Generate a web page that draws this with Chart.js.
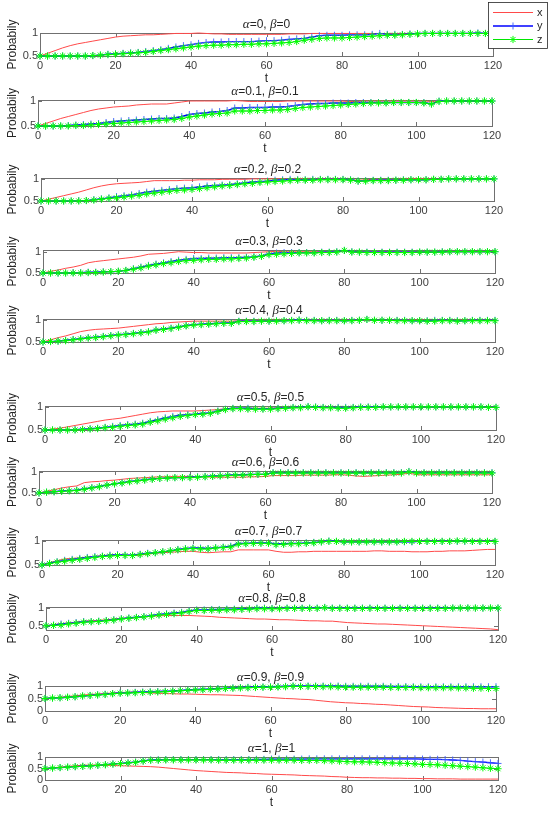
<!DOCTYPE html>
<html>
<head>
<meta charset="utf-8">
<script src="https://cdn.jsdelivr.net/npm/chart.js@4.4.1/dist/chart.umd.min.js"></script>
<style>
  body { margin: 0; background: #fff; width: 550px; height: 815px; position: relative; overflow: hidden; }
  canvas { position: absolute; left: 0; }
</style>
</head>
<body>
<script>
// time axis (markers every 2 steps)
const t = [0,2,4,6,8,10,12,14,16,18,20,22,24,26,28,30,32,34,36,38,40,42,44,46,48,50,52,54,56,58,
  60,62,64,66,68,70,72,74,76,78,80,82,84,86,88,90,92,94,96,98,100,102,104,106,108,110,112,114,116,118,120];

const xTicks = [0, 20, 40, 60, 80, 100, 120];
const yTicksHalf = [0.5, 1];
const yTicksFull = [0, 0.5, 1];
const alphas = ['0', '0.1', '0.2', '0.3', '0.4', '0.5', '0.6', '0.7', '0.8', '0.9', '1'];

// alpha = beta = 0
const x00 = [.50,.56,.62,.68,.73,.77,.80,.83,.86,.89, .92,.94,.95,.96,.97,.97,.98,.99,1,1, 1,1.01,1,.99,.99,.98,.98,.98,.98,.98,
  .98,.98,.98,.99,.99,.99,1,1,1,1, 1,1,1,1,1,.99,1,1,1,1, 1,1,1,1,1,1,1,1,1,1, 1];
const y00 = [.50,.50,.50,.50,.50,.50,.50,.51,.52,.54, .55,.56,.57,.58,.60,.62,.64,.67,.70,.73, .75,.78,.80,.81,.81,.82,.82,.82,.82,.83,
  .84,.84,.85,.87,.88,.89,.92,.95,.96,.96, .96,.97,.97,.97,.98,1,.98,.98,.98,.99, 1,1,1,1,1,1,1,1,1.01,1, 1];
const z00 = [.50,.50,.50,.50,.50,.50,.50,.51,.52,.53, .54,.55,.56,.57,.58,.60,.62,.64,.66,.68, .70,.72,.73,.74,.74,.75,.75,.76,.76,.77,
  .77,.78,.79,.80,.82,.85,.87,.89,.90,.90, .90,.91,.92,.93,.94,.95,.96,.96,.97,.98, .99,1,1,1,1,1,1,1,1,1, 1];

// alpha = beta = 0.1
const x01 = [.50,.55,.60,.65,.69,.73,.77,.81,.84,.86, .88,.89,.90,.92,.93,.94,.94,.94,.96,.98, 1,1,1,1,1,1,1.01,1,.99,.99,
  .99,.99,.99,1,1,1,1,1,1,1, 1,.99,.99,1,1,1,1,1,1,1, 1,1,.99,1,1,1,1,1,1,1, 1];
const y01 = [.50,.50,.50,.50,.51,.52,.53,.54,.55,.57, .59,.60,.61,.62,.63,.64,.65,.65,.66,.69, .73,.75,.76,.78,.79,.81,.86,.86,.87,.87,
  .87,.88,.88,.89,.91,.93,.94,.95,.95,.96, .96,.96,.97,.97,.97,.97,.97,.97,.97,.97, .97,.97,.94,1,1,1,1,1,1,1, 1];
const z01 = [.50,.50,.50,.50,.50,.51,.51,.52,.53,.54, .55,.56,.57,.58,.59,.60,.61,.62,.63,.65, .68,.70,.72,.74,.75,.76,.80,.80,.80,.81,
  .81,.82,.82,.83,.85,.87,.88,.89,.90,.91, .92,.93,.94,.95,.96,.96,.96,.97,.97,.97, .97,.96,.94,.99,1,1,1,1,1,1, 1];

// alpha = beta = 0.2
const x02 = [.50,.54,.58,.62,.66,.70,.75,.80,.84,.87, .89,.90,.91,.92,.94,.96,.96,.96,.96,.97, .97,.98,.98,.98,.99,.99,.99,.99,1,1,
  1,1,1,1,1,1,1,1,1,1, .99,.98,.97,.98,.99,.99,.99,.99,.99,1, 1,1,1,1,1,1,1,1,1,1, 1];
const y02 = [.50,.50,.50,.50,.50,.51,.51,.53,.55,.57, .60,.62,.64,.67,.70,.72,.74,.76,.78,.79, .80,.82,.84,.85,.86,.87,.89,.91,.93,.94,
  .95,.97,.98,.99,.98,.98,.99,.99,.99,.99, .99,.98,.95,.96,.97,.97,.97,.97,.98,.98, .98,.98,.99,.99,1,1,1,1,1,1, 1];
const z02 = [.50,.50,.50,.50,.50,.50,.51,.52,.54,.56, .57,.59,.61,.63,.66,.68,.70,.72,.74,.75, .76,.78,.80,.82,.84,.85,.87,.89,.90,.92,
  .93,.94,.95,.96,.97,.97,.97,.98,.98,.98, .98,.97,.95,.95,.96,.96,.96,.97,.97,.98, .98,.98,.99,.99,1,1,1,1,1,1, 1];

// alpha = beta = 0.3
const x03 = [.50,.54,.57,.61,.64,.68,.74,.77,.79,.81, .83,.85,.87,.90,.94,.95,.96,.98,1,.99, .98,.98,.97,.97,.97,.97,.97,.97,.98,.99,
  1,1.01,1,1,1,1,1,1,1,1, 1.02,1,1,1,1,1,1,1,1,1, 1,1,1,1,1,1,1,1,1,1, 1];
const y03 = [.50,.50,.50,.50,.51,.51,.52,.52,.53,.53, .54,.56,.60,.64,.68,.71,.74,.77,.80,.82, .84,.84,.85,.85,.86,.86,.86,.87,.88,.90,
  .95,.97,.98,.98,.98,.98,.98,.99,.99,1, 1.03,1,.99,.99,.99,.99,.99,.99,.99,.99, .99,.99,.99,1,1,1,1,1,1,1, 1];
const z03 = [.50,.50,.50,.50,.50,.50,.51,.51,.52,.53, .54,.56,.59,.62,.66,.69,.72,.74,.77,.79, .80,.81,.82,.82,.83,.83,.84,.85,.87,.89,
  .93,.94,.95,.96,.97,.97,.97,.98,.98,.99, 1.03,.99,.99,.98,.98,.98,.98,.98,.98,.98, .99,.99,.99,.99,1,1,1,1,1,1, 1];

// alpha = beta = 0.4
const x04 = [.50,.55,.60,.64,.69,.74,.77,.79,.80,.81, .82,.84,.86,.88,.90,.92,.93,.95,.96,.97, .98,.98,.98,.98,.98,.98,.99,1,1,1,
  1,1,1,1,1,1,1,1,1,1, 1,1,1,1,1,1,1,1,1,1, 1,1,1,1,1,1,1,1,1,1, 1];
const y04 = [.50,.51,.52,.54,.56,.58,.60,.61,.63,.65, .67,.68,.70,.72,.74,.78,.80,.82,.85,.88, .90,.91,.92,.93,.94,.94,.98,.98,.98,.98,
  .98,.99,.99,1,1.01,1,1,.99,1,1, .99,1,1,1.02,1,1,1,1,1,.99, .99,.99,1,1,1,.99,.99,1,1,1, 1];
const z04 = [.50,.51,.52,.53,.55,.57,.59,.60,.62,.64, .66,.67,.69,.71,.73,.77,.79,.81,.84,.87, .89,.90,.91,.92,.93,.93,.97,.97,.97,.98,
  .98,.98,.99,.99,1,.99,.99,.99,.99,.99, .99,.99,1,1.02,1,1,1,.99,.99,.99, .99,.98,.98,.99,.99,.98,.99,.99,.99,.99, .99];

// alpha = beta = 0.5
const x05 = [.50,.52,.54,.57,.60,.63,.66,.69,.72,.74, .76,.79,.82,.85,.88,.90,.91,.92,.92,.92, .92,.93,.94,.95,.97,.98,.98,.98,.98,.98,
  .98,.99,.99,.99,1,1,1,1,1,1, 1,1,1,1,1,1,1,1,1,1, 1,1,1,1,1,1,1,1,1,1, 1];
const y05 = [.50,.50,.50,.50,.51,.52,.53,.54,.56,.58, .60,.62,.63,.65,.69,.73,.77,.80,.83,.84, .85,.87,.88,.92,.96,.98,.98,.98,.97,.97,
  .97,.98,.99,1,1,1.02,1.01,1,1,1, 1,1,1.01,1.01,1.01,1.01,1.01,1.01,1.01,1.01, 1.01,1.01,1.01,1.01,1.01,1.01,1.01,1.01,1.01,1, 1];
const z05 = [.50,.50,.50,.50,.50,.51,.52,.53,.55,.56, .58,.60,.61,.63,.67,.70,.74,.77,.80,.82, .84,.85,.87,.91,.95,.97,.97,.96,.96,.96,
  .96,.97,.98,.99,.99,1.01,1,.99,.99,.98, .98,.99,1,1,1,1.01,1.01,1.01,1.01,1.01, 1.01,1.01,1.01,1.01,1.01,1.01,1.01,1.01,1.01,1, 1];

// alpha = beta = 0.6
const x06 = [.50,.54,.58,.62,.65,.67,.75,.77,.78,.80, .81,.83,.85,.86,.87,.88,.89,.89,.90,.90, .90,.89,.89,.88,.88,.88,.88,.88,.89,.89,
  .90,.92,.92,.92,.92,.93,.93,.93,.93,.94, .94,.93,.91,.90,.91,.92,.93,.94,.95,.98, .94,.94,.94,.94,.94,.94,.94,.94,.94,.94, .94];
const y06 = [.50,.52,.53,.55,.56,.57,.60,.63,.66,.69, .72,.75,.78,.80,.82,.84,.85,.86,.87,.87, .88,.89,.90,.91,.92,.93,.94,.94,.95,.95,
  .95,.99,.99,.99,.99,.99,.99,.99,.99,.99, .99,.99,.99,.99,.99,.99,.99,.99,.99,1.02, .99,.99,.99,.99,.99,.99,.99,.99,.99,.99, .99];
const z06 = [.50,.52,.53,.54,.55,.56,.59,.62,.65,.69, .72,.74,.77,.79,.81,.83,.85,.86,.87,.87, .87,.88,.89,.90,.91,.92,.93,.93,.94,.95,
  .95,.98,.98,.98,.98,.98,.98,.98,.98,.98, .98,.98,.98,.98,.98,.98,.98,.98,.98,1.01, .98,.98,.98,.98,.98,.98,.98,.98,.98,.98, .98];

// alpha = beta = 0.7
const x07 = [.50,.55,.59,.63,.64,.65,.67,.68,.70,.71, .72,.71,.70,.71,.73,.75,.76,.77,.78,.79, .79,.77,.76,.77,.78,.78,.82,.82,.82,.82,
  .82,.79,.77,.77,.78,.78,.79,.79,.79,.79, .79,.79,.79,.79,.80,.80,.79,.79,.79,.78, .78,.78,.79,.79,.80,.80,.80,.81,.82,.83, .83];
const y07 = [.50,.54,.57,.60,.62,.64,.66,.68,.69,.71, .72,.71,.71,.73,.75,.76,.78,.80,.83,.85, .86,.86,.85,.87,.88,.90,.96,.96,.97,.97,
  .97,.95,.95,.96,.96,.97,.98,.99,1.01,1, .99,.99,.99,.99,.99,.99,.99,.99,.99,.99, 1,1,1,1,1,1,1,1,1,1, 1];
const z07 = [.50,.53,.56,.58,.60,.62,.64,.66,.68,.69, .70,.70,.70,.72,.74,.76,.78,.80,.82,.84, .85,.84,.84,.86,.87,.88,.94,.95,.96,.96,
  .96,.93,.94,.95,.95,.96,.97,.99,1,1, .99,.99,.99,.99,.99,.99,.99,.99,1,1, 1,1,1,1,1,1.01,1.01,1,1,1, 1];

// alpha = beta = 0.8
const x08 = [.50,.53,.56,.58,.60,.63,.64,.65,.67,.69, .71,.72,.73,.75,.77,.78,.79,.79,.79,.79, .78,.77,.76,.74,.73,.72,.71,.70,.69,.69,
  .68,.67,.67,.66,.65,.64,.64,.63,.63,.61, .59,.58,.57,.56,.55,.55,.54,.53,.52,.51, .50,.49,.48,.47,.46,.45,.44,.43,.42,.41, .39];
const y08 = [.50,.52,.55,.57,.59,.62,.62,.63,.65,.67, .70,.72,.74,.76,.79,.82,.84,.86,.88,.92, .95,.95,.96,.96,.97,.97,.98,.98,1,1,
  .99,.99,1,1,1,1,1,1.02,1,1, 1,1,1,1,1,1,1,1,1,1, 1,1,1,1,1,1,1,1,1,1, 1];
const z08 = [.50,.51,.52,.55,.57,.60,.61,.62,.64,.66, .69,.71,.73,.75,.77,.80,.82,.84,.86,.90, .93,.93,.94,.94,.95,.95,.96,.97,.98,.98,
  .98,.98,.99,.99,.99,.99,.99,1.01,.99,.99, .99,.99,.99,.99,.99,.99,.99,.99,.99,.99, .99,.99,.99,.99,1,1,1,1,1,1, 1];

// alpha = beta = 0.9
const x09 = [.50,.53,.55,.58,.61,.64,.66,.68,.70,.72, .74,.75,.76,.74,.72,.71,.70,.69,.68,.68, .67,.66,.65,.65,.64,.63,.62,.60,.58,.56,
  .54,.52,.50,.49,.47,.46,.43,.40,.37,.35, .33,.32,.30,.29,.27,.26,.24,.22,.20,.18, .17,.16,.14,.13,.12,.11,.10,.10,.09,.09, .09];
const y09 = [.50,.52,.53,.55,.57,.60,.62,.65,.67,.70, .72,.73,.75,.76,.77,.78,.79,.80,.82,.84, .86,.87,.88,.90,.91,.93,.94,.95,.96,.96,
  .97,.98,.99,1,1,1,1,1,1,1, .99,.99,.99,.99,.99,.99,.98,.98,.98,.97, .97,.97,.97,.97,.97,.97,.97,.97,.97,.97, .97];
const z09 = [.50,.52,.53,.55,.57,.60,.62,.64,.66,.69, .71,.72,.73,.74,.75,.76,.77,.79,.81,.83, .84,.85,.87,.88,.90,.91,.92,.93,.94,.95,
  .95,.96,.97,.99,.98,.98,.98,.97,.97,.96, .95,.95,.95,.95,.95,.95,.94,.94,.94,.94, .93,.93,.93,.93,.93,.92,.92,.91,.91,.90, .90];

// alpha = beta = 1
const x10 = [.50,.53,.56,.59,.62,.64,.65,.65,.64,.63, .62,.61,.60,.59,.58,.56,.53,.50,.47,.44, .41,.39,.37,.35,.33,.32,.31,.29,.28,.26,
  .25,.24,.23,.22,.20,.19,.18,.17,.15,.14, .12,.11,.10,.10,.09,.09,.08,.08,.07,.07, .06,.06,.05,.05,.05,.04,.04,.04,.04,.04, .04];
const y10 = [.50,.52,.54,.56,.58,.60,.62,.64,.67,.70, .72,.75,.78,.83,.87,.88,.89,.89,.89,.89, .89,.89,.89,.89,.89,.89,.89,.89,.90,.90,
  .91,.91,.91,.91,.91,.92,.92,.92,.92,.92, .92,.92,.92,.92,.92,.92,.92,.92,.92,.92, .91,.90,.90,.89,.87,.85,.82,.80,.78,.75, .72];
const z10 = [.50,.52,.54,.56,.58,.59,.61,.64,.66,.69, .71,.74,.77,.82,.86,.86,.87,.87,.87,.87, .87,.87,.87,.86,.86,.86,.86,.86,.86,.86,
  .86,.86,.86,.86,.85,.85,.85,.84,.83,.82, .80,.79,.79,.78,.77,.75,.74,.73,.72,.70, .68,.67,.66,.64,.62,.60,.58,.56,.53,.51, .49];

const xSeries = [x00, x01, x02, x03, x04, x05, x06, x07, x08, x09, x10];
const ySeries = [y00, y01, y02, y03, y04, y05, y06, y07, y08, y09, y10];
const zSeries = [z00, z01, z02, z03, z04, z05, z06, z07, z08, z09, z10];

// axis limits per panel
const yMins = [0.5, 0.5, 0.5, 0.5, 0.5, 0.5, 0.5, 0.5, 0.38, 0, 0];
const yMaxs = [1.01, 1.02, 1.02, 1.04, 1.03, 1.03, 1.03, 1.03, 1.03, 1.0, 1.0];

// plot boxes on the page: left, right, top, bottom
const plotLeft   = [40, 38, 41, 43, 43, 45, 39, 42, 46, 45, 45];
const plotRight  = [493, 492, 494, 495, 495, 496, 492, 495, 498, 496, 498];
const plotTop    = [33, 100, 178, 250, 319, 406, 471, 540, 607, 686, 757];
const plotBottom = [56, 126, 201, 273, 342, 430, 493, 565, 630, 711, 780];

const FONT = "'Liberation Sans', Arial, Helvetica, sans-serif";
const GREEK = "italic 13px 'Liberation Serif', 'DejaVu Serif', serif";
const TEXT = '#262626';
const AXIS = '#404040';

function makeFrame(i) {
    return {
        id: 'frame',
        beforeDatasetsDraw(chart) {
            const ctx = chart.ctx;
            const a = chart.chartArea;
            const xs = chart.scales.x, ys = chart.scales.y;
            ctx.save();
            ctx.strokeStyle = '#707070';
            ctx.lineWidth = 1;
            ctx.strokeRect(Math.round(a.left) + 0.5, Math.round(a.top) + 0.5, Math.round(a.right - a.left), Math.round(a.bottom - a.top));
            // inward tick marks
            ctx.beginPath();
            xTicks.forEach(v => {
                const px = Math.round(xs.getPixelForValue(v)) + 0.5;
                ctx.moveTo(px, a.bottom); ctx.lineTo(px, a.bottom - 4);
                ctx.moveTo(px, a.top); ctx.lineTo(px, a.top + 4);
            });
            ys.ticks.forEach(tk => {
                const py = Math.round(ys.getPixelForValue(tk.value)) + 0.5;
                ctx.moveTo(a.left, py); ctx.lineTo(a.left + 4, py);
                ctx.moveTo(a.right, py); ctx.lineTo(a.right - 4, py);
            });
            ctx.stroke();
            // y axis title (drawn here so it is not squeezed to the plot height)
            ctx.translate(13, (a.top + a.bottom) / 2);
            ctx.rotate(-Math.PI / 2);
            ctx.fillStyle = TEXT;
            ctx.font = '12px ' + FONT;
            ctx.textAlign = 'center';
            ctx.textBaseline = 'middle';
            ctx.fillText('Probabily', 0, 0);
            ctx.restore();
        },
        afterDraw(chart) {
            // panel title with italic greek letters
            const ctx = chart.ctx;
            const a = chart.chartArea;
            const parts = [
                ['\u03b1', GREEK], ['=' + alphas[i] + ', ', '12px ' + FONT],
                ['\u03b2', GREEK], ['=' + alphas[i], '12px ' + FONT]
            ];
            ctx.save();
            ctx.fillStyle = TEXT;
            ctx.textBaseline = 'middle';
            let total = 0;
            parts.forEach(p => { ctx.font = p[1]; total += ctx.measureText(p[0]).width; });
            let x = (a.left + a.right) / 2 - total / 2;
            const y = a.top - 8;
            parts.forEach(p => {
                ctx.font = p[1];
                ctx.fillText(p[0], x, y);
                x += ctx.measureText(p[0]).width;
            });
            ctx.restore();
        }
    };
}

const legendPlugin = {
    id: 'legendBox',
    afterDraw(chart) {
        const ctx = chart.ctx;
        ctx.save();
        ctx.fillStyle = '#fff';
        ctx.fillRect(488.5, 2.5, 59, 46);
        ctx.strokeStyle = '#262626';
        ctx.lineWidth = 0.8;
        ctx.strokeRect(488.5, 2.5, 59, 46);
        chart.data.datasets.forEach((ds, k) => {
            const yy = 12.5 + k * 13.5;
            ctx.strokeStyle = ds.borderColor;
            ctx.lineWidth = ds.borderWidth;
            ctx.beginPath();
            ctx.moveTo(493, yy);
            ctx.lineTo(533, yy);
            ctx.stroke();
            if (ds.pointRadius > 0 && Chart.helpers && Chart.helpers.drawPoint) {
                ctx.strokeStyle = ds.pointBorderColor;
                ctx.lineWidth = ds.pointBorderWidth;
                Chart.helpers.drawPoint(ctx, {pointStyle: ds.pointStyle, radius: ds.pointRadius, borderWidth: ds.pointBorderWidth, rotation: 0}, 513, yy);
            }
            ctx.fillStyle = TEXT;
            ctx.font = '11px ' + FONT;
            ctx.textBaseline = 'middle';
            ctx.fillText(ds.label, 537, yy);
        });
        ctx.restore();
    }
};

function makePanel(i) {
    const above = i === 0 ? 33 : 22;
    const below = 32;
    const h = above + (plotBottom[i] - plotTop[i]) + below;
    const cv = document.createElement('canvas');
    cv.width = 550;
    cv.height = h;
    cv.style.top = (plotTop[i] - above) + 'px';
    document.body.appendChild(cv);

    const pts = arr => t.map((v, k) => ({x: v, y: arr[k]}));
    const yTicks = yMins[i] < 0.2 ? yTicksFull : yTicksHalf;

    new Chart(cv, {
        type: 'line',
        data: {
            datasets: [
                { label: 'x', data: pts(xSeries[i]), borderColor: '#ff4a4a', borderWidth: 1, pointRadius: 0, order: 3, clip: false },
                { label: 'y', data: pts(ySeries[i]), borderColor: '#0000ff', borderWidth: 1.3, pointStyle: 'cross',
                  pointRadius: 3.5, pointBorderWidth: 0.9, pointBorderColor: '#3b5bff', order: 2, clip: false },
                { label: 'z', data: pts(zSeries[i]), borderColor: '#00e600', borderWidth: 1, pointStyle: 'star',
                  pointRadius: 3.6, pointBorderWidth: 1, pointBorderColor: '#00ff00', order: 1, clip: false }
            ]
        },
        options: {
            responsive: false,
            animation: false,
            events: [],
            layout: { padding: { top: above, left: 0, right: 550 - plotRight[i], bottom: 0 } },
            plugins: {
                legend: { display: false },
                tooltip: { enabled: false },
                title: { display: false }
            },
            scales: {
                x: {
                    type: 'linear', min: 0, max: 120,
                    afterBuildTicks: s => { s.ticks = xTicks.map(v => ({value: v})); },
                    afterFit: s => { s.height = below; },
                    grid: { display: false, drawTicks: false },
                    border: { display: false },
                    ticks: { color: AXIS, font: { family: FONT, size: 11 }, padding: 3, maxRotation: 0, autoSkip: false,
                             callback: v => String(v) },
                    title: { display: true, text: 't', color: TEXT, font: { family: FONT, size: 12 }, padding: { top: 0, bottom: 2 } }
                },
                y: {
                    min: yMins[i], max: yMaxs[i],
                    afterBuildTicks: s => { s.ticks = yTicks.map(v => ({value: v})); },
                    afterFit: s => { s.width = plotLeft[i]; },
                    grid: { display: false, drawTicks: false },
                    border: { display: false },
                    ticks: { color: AXIS, font: { family: FONT, size: 11 }, padding: 2, autoSkip: false,
                             callback: v => String(v) }
                }
            }
        },
        plugins: i === 0 ? [makeFrame(i), legendPlugin] : [makeFrame(i)]
    });
}

for (let i = 0; i < alphas.length; i++) makePanel(i);
</script>
</body>
</html>
